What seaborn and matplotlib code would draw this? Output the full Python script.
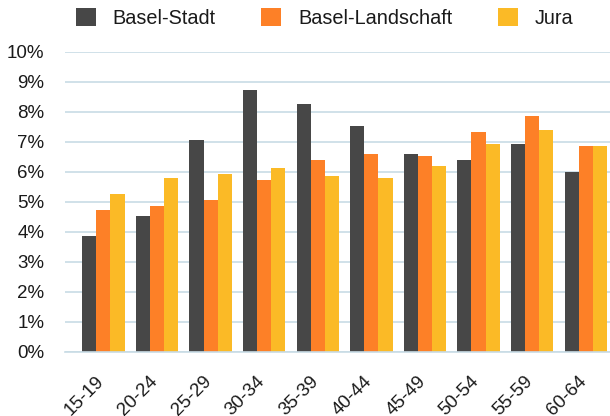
import matplotlib
matplotlib.use("Agg")
import matplotlib.pyplot as plt
import matplotlib.transforms as mtransforms
import seaborn as sns
import pandas as pd
from matplotlib.patches import Patch

categories = ["15-19", "20-24", "25-29", "30-34", "35-39",
              "40-44", "45-49", "50-54", "55-59", "60-64"]
basel_stadt = [3.87, 4.54, 7.07, 8.73, 8.26, 7.52, 6.59, 6.40, 6.93, 5.99]
basel_landschaft = [4.73, 4.86, 5.06, 5.73, 6.40, 6.59, 6.52, 7.33, 7.86, 6.87]
jura = [5.26, 5.80, 5.92, 6.12, 5.87, 5.80, 6.19, 6.93, 7.40, 6.87]
series_names = ["Basel-Stadt", "Basel-Landschaft", "Jura"]
colors = ["#474747", "#FD8027", "#FBBA26"]
y_ticks = list(range(0, 11))

rows = []
for name, vals in zip(series_names, [basel_stadt, basel_landschaft, jura]):
    for c, v in zip(categories, vals):
        rows.append({"age": c, "region": name, "value": v})
df = pd.DataFrame(rows)

sns.set_theme(style="white")
plt.rcParams["font.family"] = ["Liberation Sans", "DejaVu Sans"]

W, H = 610, 416
fig = plt.figure(figsize=(W / 100, H / 100), dpi=100)
left = 65 / W
bottom = (H - 352) / H
height = (352 - 51.5) / H
width = 560 / W
ax = fig.add_axes([left, bottom, width, height])

sns.barplot(data=df, x="age", y="value", hue="region", order=categories,
            hue_order=series_names, palette=colors, width=0.79,
            linewidth=0, saturation=1, ax=ax, legend=False, errorbar=None)

ax.set_ylim(0, 10)
ax.set_xlim(-0.716, 9.733)
ax.set_yticks(y_ticks)
ax.set_yticklabels([f"{t}%" for t in y_ticks])
ax.yaxis.grid(True, color="#C8DBE5", linewidth=1.2)
ax.set_axisbelow(True)
for s in ["top", "right", "left"]:
    ax.spines[s].set_visible(False)
ax.spines["bottom"].set_color("#C8DBE5")
ax.spines["bottom"].set_linewidth(1.2)
ax.set_xlabel("")
ax.set_ylabel("")
ax.tick_params(axis="y", length=0, pad=15, labelsize=13.5, labelcolor="#1a1a1a")
ax.tick_params(axis="x", length=0, pad=15, labelsize=13.5, labelcolor="#1a1a1a")
offset = mtransforms.ScaledTranslation(4 / 100, 0, fig.dpi_scale_trans)
for lab in ax.get_xticklabels():
    lab.set_rotation(45)
    lab.set_ha("right")
    lab.set_transform(lab.get_transform() + offset)

handles = [Patch(facecolor=c, edgecolor="none") for c in colors]
fig.legend(handles, series_names, loc="upper left",
           bbox_to_anchor=(76 / W, 1 - 8 / H), ncol=3, frameon=False,
           fontsize=14.3, handlelength=1.0, handleheight=1.0,
           handletextpad=0.84, columnspacing=2.3, borderpad=0,
           borderaxespad=0, labelcolor="#1a1a1a")

fig.savefig("out.png", dpi=100)
